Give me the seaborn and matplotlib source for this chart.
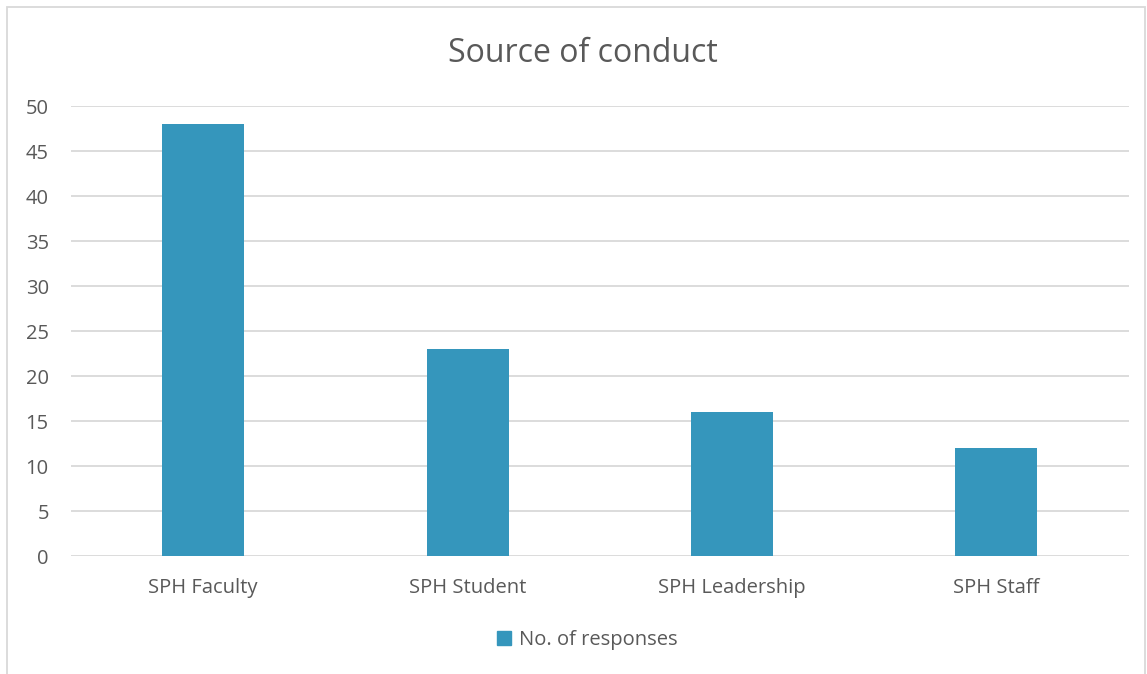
import pandas as pd
import seaborn as sns
import matplotlib.pyplot as plt
from matplotlib.patches import Rectangle

sources = ['SPH Faculty', 'SPH Student', 'SPH Leadership', 'SPH Staff']
responses = [48, 23, 16, 12]
yticks = [0, 5, 10, 15, 20, 25, 30, 35, 40, 45, 50]

df = pd.DataFrame({'source': sources, 'responses': responses})

sns.set_theme(style='white')
plt.rcParams['font.family'] = ['Open Sans', 'DejaVu Sans']
grey = '#595959'
bar_color = '#3596bc'

fig = plt.figure(figsize=(11.47, 6.74), dpi=100)
ax = fig.add_axes([0.0619, 0.175, 0.922, 0.6677])

sns.barplot(data=df, x='source', y='responses', color=bar_color,
            width=0.31, saturation=1, linewidth=0, ax=ax, zorder=3)

ax.set_ylim(0, 50)
ax.set_xlim(-0.5, 3.5)
ax.set_yticks(yticks)
ax.yaxis.grid(True, color='#d9d9d9', linewidth=1.3, zorder=0)
ax.set_axisbelow(True)
sns.despine(ax=ax, left=True, top=True, right=True, bottom=True)
ax.tick_params(axis='both', length=0, labelsize=14.5, labelcolor=grey)
ax.tick_params(axis='y', pad=16)
ax.tick_params(axis='x', pad=16)
ax.set_xlabel('')
ax.set_ylabel('')

fig.text(0.508, 0.921, 'Source of conduct', ha='center', va='center',
         fontsize=23, color=grey)

handle = Rectangle((0, 0), 1, 1, color=bar_color)
fig.legend([handle], ['No. of responses'], loc='center',
           bbox_to_anchor=(0.512, 0.051), frameon=False, fontsize=14.5,
           labelcolor=grey, handlelength=0.7, handleheight=0.7,
           handletextpad=0.4)

fig.patches.append(Rectangle((7 / 1147, -0.01), 1138 / 1147, 1 - 7 / 674 + 0.01,
                             transform=fig.transFigure, fill=False,
                             edgecolor='#d9d9d9', linewidth=1.3))

fig.savefig('out.png', dpi=100)
